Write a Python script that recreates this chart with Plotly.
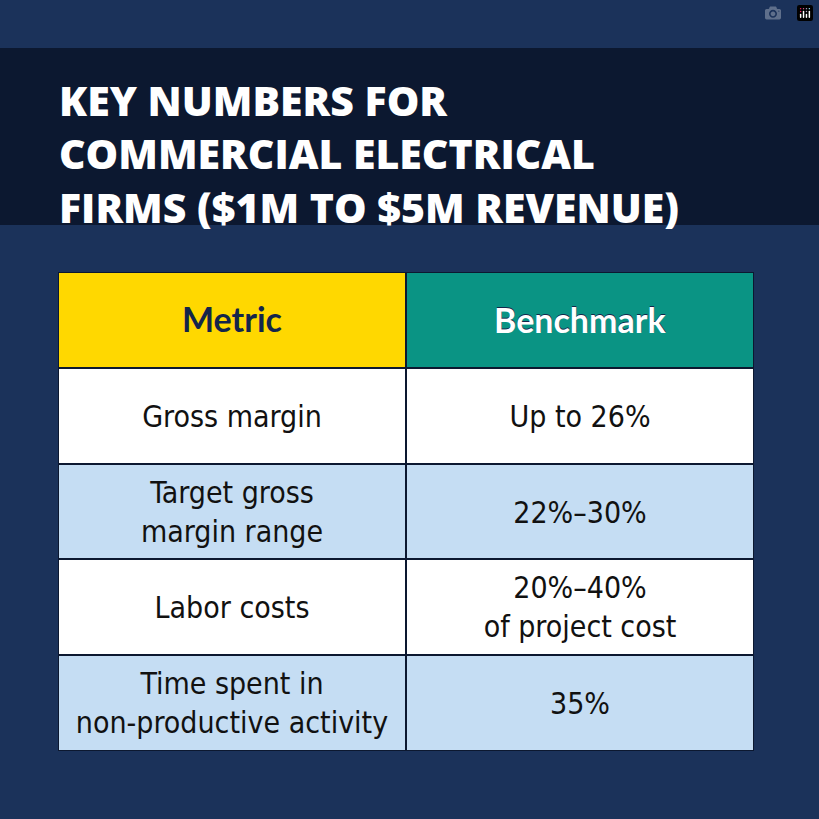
import plotly.graph_objects as go

headers = ["Metric", "Benchmark"]
metrics = ["Gross margin", "Target gross<br>margin range", "Labor costs", "Time spent in<br>non-productive activity"]
benchmarks = ["Up to 26%", "22%–30%", "20%–40%<br>of project cost", "35%"]
title = "KEY NUMBERS FOR<br>COMMERCIAL ELECTRICAL<br>FIRMS ($1M TO $5M REVENUE)"

W = H = 819
cols = [0, 1]
zb = [[(2 if i % 2 == 0 else 3)] * 2 for i in range(len(metrics))]
tb = [[m, b] for m, b in zip(metrics, benchmarks)]
cs = [[0, "#ffd800"], [0.25, "#ffd800"], [0.25, "#0a9484"], [0.5, "#0a9484"],
      [0.5, "#ffffff"], [0.75, "#ffffff"], [0.75, "#c5ddf3"], [1, "#c5ddf3"]]
bodyfont = "Liberation Sans Narrow, DejaVu Sans Condensed, Arial Narrow, Roboto, sans-serif"

fig = go.Figure()
fig.add_trace(go.Heatmap(z=[[0, 1]] + zb, x=cols, y=list(range(5)), zmin=0, zmax=3,
                         colorscale=cs, showscale=False, xgap=2, ygap=2, hoverinfo="skip",
                         text=[["", ""]] + tb, texttemplate="%{text}",
                         textfont=dict(family=bodyfont, size=30, color="#111111")))
fig.add_trace(go.Heatmap(z=[[0, 1]], x=cols, y=[0], zmin=0, zmax=3, colorscale=cs,
                         showscale=False, xgap=2, ygap=2, hoverinfo="skip",
                         text=[headers], texttemplate="%{text}",
                         textfont=dict(family="Lato", size=34, color="#13254a", weight="bold")))
fig.add_annotation(x=1, y=0, text=headers[1], showarrow=False,
                   font=dict(family="Lato", size=34, color="white", weight="bold"))

fig.add_shape(type="rect", xref="paper", yref="paper", x0=0, x1=1,
              y0=1 - 225 / H, y1=1 - 48 / H, fillcolor="#0c1830", line_width=0, layer="below")
fig.add_annotation(xref="paper", yref="paper", x=57 / W, y=1 - 70 / H, xanchor="left", yanchor="top",
                   align="left", showarrow=False, text=title,
                   font=dict(family="Open Sans", size=41, color="white", weight=800))

fig.update_layout(width=W, height=H, margin=dict(l=0, r=0, t=0, b=0),
                  paper_bgcolor="#1b325a", plot_bgcolor="#0c1830",
                  xaxis=dict(domain=[58 / W, 754 / W], visible=False, range=[-0.5, 1.5], fixedrange=True),
                  yaxis=dict(domain=[1 - 751 / H, 1 - 272 / H], visible=False, range=[4.5, -0.5], fixedrange=True))
fig.write_html("out.html", post_script="document.body.style.margin='0';document.body.style.background='#1b325a';")
